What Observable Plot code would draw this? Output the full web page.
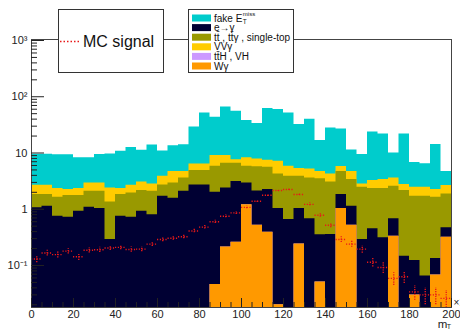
<!DOCTYPE html>
<html><head><meta charset="utf-8">
<script src="https://cdn.jsdelivr.net/npm/d3@7"></script>
<script src="https://cdn.jsdelivr.net/npm/@observablehq/plot@0.6"></script>
<style>
html,body{margin:0;padding:0;background:#fff;}
#chart{position:relative;width:460px;height:331px;overflow:hidden;}
</style></head><body><div id="chart"></div>
<script>
// ---- data (bins of m_T, width 5) ----
const binLow = [0,5,10,15,20,25,30,35,40,45,50,55,60,65,70,75,80,85,90,95,100,105,110,115,120,125,130,135,140,145,150,155,160,165,170,175,180,185,190,195];
const binWidth = 5;
const wGamma   = [0,0,0,0,0,0,0,0,0,0,0,0,0,0,0,0,0,0.046,0.213,0.259,1.20,0.52,0.39,0.02,0,0.24,0,0.051,0,1.03,0.52,0,0,0,0.33,0,0.030,0,0.068,0.318];
const ttHVH    = [0,0,0,0,0,0,0,0,0,0,0,0,0,0,0,0,0,0,0,0,0,0,0,0,0,0,0,0,0,0,0,0,0,0,0,0,0,0,0,0];
const eToGamma = [1.06,1.13,0.75,0.72,0.92,1.08,1.03,0.29,0.75,0.72,0.92,0.80,1.70,1.57,2.09,2.70,2.70,1.95,2.18,2.84,1.74,1.58,1.85,1.01,0.66,0.79,0.68,0.30,0.355,0.80,0.61,0.29,0.45,0.31,0.35,0.146,0.092,0.065,0.065,0.152];
const ttbar    = [0.77,0.70,0.88,1.03,0.83,1.01,1.06,1.06,1.08,1.23,1.23,1.29,1.00,1.37,1.51,2.20,2.20,3.80,4.21,3.50,2.86,3.60,3.36,3.21,3.20,2.83,2.92,3.15,2.70,2.87,2.24,2.17,1.88,2.02,1.88,2.00,1.58,1.64,1.50,1.40];
const vvGamma  = [0.84,0.84,0.70,0.49,0.58,0.85,0.85,1.04,0.50,0.72,0.91,0.73,1.16,1.76,1.10,1.50,1.50,3.20,2.40,1.00,2.40,2.10,1.80,2.86,1.94,1.44,1.60,1.20,1.18,1.05,1.33,0.36,0.90,1.04,1.04,0.60,0.76,0.76,0.61,0.77];
const fakeMET  = [6.83,6.83,6.97,7.06,5.87,5.26,6.46,7.21,8.37,9.83,8.14,10.98,6.94,8.8,9.3,22.6,45.1,34.0,57.0,47.4,29.5,25.6,54.2,52.2,45.7,26.7,34.8,11.9,23.7,21.0,6.6,6.6,20.5,18.4,6.4,19.0,4.34,3.94,11.9,2.06];
const mcSignal    = [0.13,0.167,0.156,0.18,0.143,0.187,0.19,0.205,0.21,0.192,0.195,0.24,0.29,0.305,0.325,0.41,0.48,0.60,0.75,0.86,1.08,1.39,1.77,2.15,2.24,1.83,1.22,0.78,0.52,0.29,0.24,0.195,0.114,0.092,0.059,0.063,0.034,0.030,0.030,0.026];
const mcSignalErr = [0.018,0.02,0.02,0.02,0.02,0.02,0.02,0.02,0.02,0.02,0.02,0.022,0.025,0.025,0.027,0.03,0.035,0.04,0.045,0.05,0.06,0.07,0.08,0.09,0.09,0.08,0.07,0.06,0.05,0.035,0.03,0.03,0.02,0.02,0.015,0.015,0.01,0.01,0.01,0.01];

const xTicks = [0,20,40,60,80,100,120,140,160,180,200];
const xMinorTicks = d3.range(0, 201, 5);
const yTicks = [1000,100,10,1,0.1];
const yTickLabels = ["10³","10²","10","1","10⁻¹"];

const seriesNames  = ["fake E", "e→γ", "tt\u0304 , tt\u0304γ , single-top", "VVγ", "tt\u0304H , VH", "Wγ"];
const seriesColors = ["#00cccc", "#000033", "#999900", "#ffcc00", "#cc99ff", "#ff9900"];
const signalName = "MC signal";
const signalColor = "#e81818";

// ---- build stack (bottom -> top as drawn) ----
const yMin = 0.0179, yMax = 1042;
const xMax = 200;
const layers = [
  {values: wGamma,   color: seriesColors[5]},
  {values: ttHVH,    color: seriesColors[4]},
  {values: eToGamma, color: seriesColors[1]},
  {values: ttbar,    color: seriesColors[2]},
  {values: vvGamma,  color: seriesColors[3]},
  {values: fakeMET,  color: seriesColors[0]}
];
let cum = binLow.map(() => 0);
const stacked = layers.map(l => {
  cum = cum.map((c, i) => c + l.values[i]);
  const pts = binLow.map((x, i) => ({x, y: Math.max(cum[i], yMin)}));
  pts.push({x: xMax, y: pts[pts.length - 1].y});
  return {color: l.color, pts};
});

const sig = binLow.map((x, i) => ({lo: x, hi: x + binWidth, c: x + binWidth / 2, v: mcSignal[i], e: mcSignalErr[i]}));

// minor log ticks
const yMinor = [];
for (let k = -2; k <= 3; k++) for (let m = 2; m <= 9; m++) { const v = m * Math.pow(10, k); if (v > yMin && v < yMax) yMinor.push(v); }

const pxPerX = 420 / 200;
const decadePx = 56.25;
const majorLenX = 13 / pxPerX, minorLenX = 6 / pxPerX;
const xMajorLenF = Math.pow(10, 9 / decadePx), xMinorLenF = Math.pow(10, 5 / decadePx);
const font = "'Liberation Sans', Arial, Helvetica, sans-serif";

const marks = [];
// draw from top of stack down so lower layers paint over
for (let i = stacked.length - 1; i >= 0; i--) {
  marks.push(Plot.areaY(stacked[i].pts, {x: "x", y1: yMin, y2: "y", curve: "step-after", fill: stacked[i].color, clip: true}));
}
// signal
marks.push(Plot.ruleY(sig, {x1: "lo", x2: "hi", y: "v", stroke: signalColor, strokeWidth: 1.4, strokeDasharray: "1.2,1.6", clip: true}));
marks.push(Plot.ruleX(sig, {x: "c", y1: d => d.v - d.e, y2: d => d.v + d.e, stroke: signalColor, strokeWidth: 1.4, strokeDasharray: "1.2,1.2", clip: true}));
// frame
marks.push(Plot.frame({stroke: "#444", strokeWidth: 1}));
// y ticks (inside)
marks.push(Plot.ruleY(yTicks, {y: d => d, x1: 0, x2: majorLenX, stroke: "#222"}));
marks.push(Plot.ruleY(yMinor, {y: d => d, x1: 0, x2: minorLenX, stroke: "#222"}));
// x ticks (inside)
marks.push(Plot.ruleX(xTicks, {x: d => d, y1: yMin, y2: yMin * xMajorLenF, stroke: "#222"}));
marks.push(Plot.ruleX(xMinorTicks, {x: d => d, y1: yMin, y2: yMin * xMinorLenF, stroke: "#222"}));
// labels
marks.push(Plot.text(yTicks, {x: 0, y: d => d, text: (d, i) => yTickLabels[i], textAnchor: "end", dx: -4, fontSize: 11, fill: "#222"}));
marks.push(Plot.text(xTicks, {x: d => d, y: yMin, text: d => String(d), dy: 7, fontSize: 11, fill: "#222"}));
marks.push(Plot.text([xMax], {x: d => d, y: yMin, text: () => "×10³", textAnchor: "start", dx: 2, dy: -5, fontSize: 10, fill: "#222"}));
marks.push(Plot.text([xMax], {x: d => d, y: yMin, text: () => "m", textAnchor: "middle", dx: -9, dy: 17, fontSize: 11.5, fill: "#222"}));
marks.push(Plot.text([xMax], {x: d => d, y: yMin, text: () => "T", textAnchor: "middle", dx: -2.5, dy: 19.5, fontSize: 7, fill: "#222"}));

const svg = Plot.plot({
  width: 460, height: 331,
  marginLeft: 31, marginRight: 9, marginTop: 39, marginBottom: 24,
  x: {domain: [0, xMax], axis: null},
  y: {type: "log", domain: [yMin, yMax], axis: null},
  style: {fontFamily: font, background: "white", overflow: "hidden"},
  marks
});
document.getElementById("chart").appendChild(svg);

// ---- legends (drawn over the frame, ROOT style) ----
const s = d3.select(svg);
function addText(g, x, y, size, str) {
  return g.append("text").attr("x", x).attr("y", y).attr("text-anchor", "start")
    .attr("dominant-baseline", "central").attr("font-size", size).attr("fill", "#111")
    .attr("font-family", font).text(str);
}
// MC signal legend
const g1 = s.append("g");
g1.append("rect").attr("x", 58.5).attr("y", 9.5).attr("width", 105).attr("height", 63).attr("fill", "white").attr("stroke", "#333");
g1.append("line").attr("x1", 60).attr("x2", 80).attr("y1", 41.5).attr("y2", 41.5).attr("stroke", signalColor).attr("stroke-width", 1.3).attr("stroke-dasharray", "1.5,2");
addText(g1, 83, 41.5, 16, signalName);

// background legend
const g2 = s.append("g");
g2.append("rect").attr("x", 188.5).attr("y", 9.5).attr("width", 105).attr("height", 63).attr("fill", "white").attr("stroke", "#333");
const rowY = [18, 27.6, 37.2, 46.8, 56.4, 66];
seriesNames.forEach((name, i) => {
  g2.append("rect").attr("x", 192).attr("y", rowY[i] - 3.5).attr("width", 19).attr("height", 7).attr("fill", seriesColors[i]);
  const t = addText(g2, 214, rowY[i], 10, name);
  if (i === 0) {
    const w = t.node().getComputedTextLength();
    addText(g2, 214 + w + 0.5, rowY[i] + 3, 6.5, "T");
    addText(g2, 214 + w + 0.5, rowY[i] - 4, 6, "miss");
  }
});
</script></body></html>
